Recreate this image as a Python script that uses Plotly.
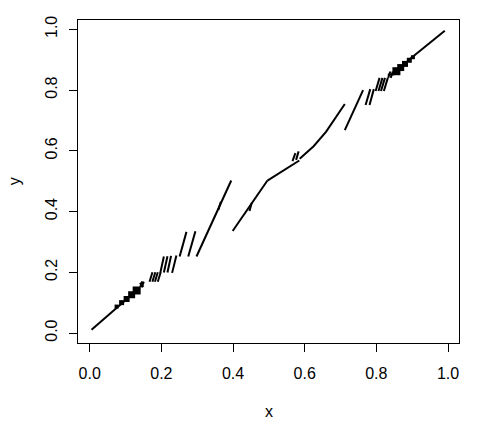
import plotly.graph_objects as go

# Each piece is a polyline (data units)
pieces_x = [
    [0.005, 0.140],                      # lower main line
    [0.141, 0.147], [0.145, 0.151], [0.140, 0.150],   # left blob
    [0.167, 0.175], [0.175, 0.183], [0.182, 0.190], [0.190, 0.198],  # group 1
    [0.197, 0.207], [0.207, 0.217], [0.217, 0.227], [0.230, 0.242],  # group 2
    [0.251, 0.270], [0.275, 0.295],      # group 3
    [0.298, 0.395],                      # big left segment
    [0.359, 0.366],                      # small loop
    [0.399, 0.496],                      # segment from 0.4
    [0.446, 0.452],                      # kink
    [0.496, 0.540, 0.585],               # middle piece
    [0.566, 0.574], [0.576, 0.583],      # spikes
    [0.586, 0.625, 0.660, 0.712],        # upper main
    [0.712, 0.763],                      # right slash
    [0.770, 0.783], [0.781, 0.793],      # two slashes
    [0.798, 0.809], [0.806, 0.817], [0.813, 0.824], [0.821, 0.832],  # right group
    [0.833, 0.839], [0.840, 0.846], [0.832, 0.851],   # right blob
    [0.848, 0.898],                      # thick part
    [0.898, 0.991],                      # upper end
]
pieces_y = [
    [0.011, 0.149],
    [0.151, 0.170], [0.150, 0.169], [0.165, 0.152],
    [0.169, 0.200], [0.169, 0.200], [0.169, 0.200], [0.169, 0.200],
    [0.198, 0.252], [0.199, 0.253], [0.199, 0.254], [0.198, 0.255],
    [0.252, 0.333], [0.252, 0.335],
    [0.252, 0.502],
    [0.405, 0.432],
    [0.336, 0.502],
    [0.402, 0.428],
    [0.502, 0.536, 0.568],
    [0.566, 0.592], [0.570, 0.598],
    [0.574, 0.615, 0.663, 0.754],
    [0.668, 0.800],
    [0.751, 0.803], [0.751, 0.803],
    [0.797, 0.840], [0.797, 0.840], [0.797, 0.840], [0.797, 0.840],
    [0.840, 0.861], [0.840, 0.861], [0.850, 0.852],
    [0.852, 0.906],
    [0.906, 0.995],
]

sq_left_x = [0.075, 0.089, 0.103, 0.117, 0.131]
sq_left_y = [0.087, 0.100, 0.112, 0.126, 0.140]
sq_left_s = [4, 5, 6, 7, 8]
sq_right_x = [0.856, 0.868, 0.880, 0.892, 0.902]
sq_right_y = [0.862, 0.874, 0.886, 0.898, 0.908]
sq_right_s = [8, 7, 6, 5, 4]

tick_vals = [0.0, 0.2, 0.4, 0.6, 0.8, 1.0]
tick_text = ["0.0", "0.2", "0.4", "0.6", "0.8", "1.0"]

lx, ly = [], []
for px, py in zip(pieces_x, pieces_y):
    lx += px + [None]
    ly += py + [None]

fig = go.Figure()
fig.add_trace(go.Scatter(x=lx, y=ly, mode="lines",
                         line=dict(color="black", width=2),
                         hoverinfo="skip", showlegend=False))
fig.add_trace(go.Scatter(x=sq_left_x + sq_right_x, y=sq_left_y + sq_right_y,
                         mode="markers",
                         marker=dict(symbol="square", color="black", opacity=1,
                                     size=sq_left_s + sq_right_s,
                                     line=dict(width=0)),
                         hoverinfo="skip", showlegend=False))

font = dict(family="Arial, Liberation Sans, sans-serif", size=16, color="black")
axis_common = dict(showgrid=False, zeroline=False, showline=True, mirror=True,
                   linecolor="black", linewidth=1, ticks="outside", ticklen=8,
                   tickwidth=1, tickcolor="black", tickvals=tick_vals,
                   ticktext=tick_text, tickfont=font)

fig.update_layout(
    width=500, height=441,
    margin=dict(l=78.3, r=40.7, t=20, b=97.7),
    paper_bgcolor="white", plot_bgcolor="white",
    xaxis=dict(range=[-0.0327, 1.0307], ticklabelstandoff=8, **axis_common),
    yaxis=dict(range=[-0.0329, 1.0306], tickangle=-90, ticklabelstandoff=6, **axis_common),
    annotations=[
        dict(text="x", xref="paper", yref="paper", x=0.5, y=0, yanchor="middle",
             yshift=-68.4, showarrow=False, font=font),
        dict(text="y", xref="paper", yref="paper", x=0, y=0.5, xanchor="center",
             xshift=-63.3, textangle=-90, showarrow=False, font=font),
    ],
)

# remove the page's default body margin so the figure sits at the window's corner
fig.write_html("out.html", config={"displayModeBar": False},
               post_script="document.body.style.margin='0px';document.body.style.overflow='hidden';")
